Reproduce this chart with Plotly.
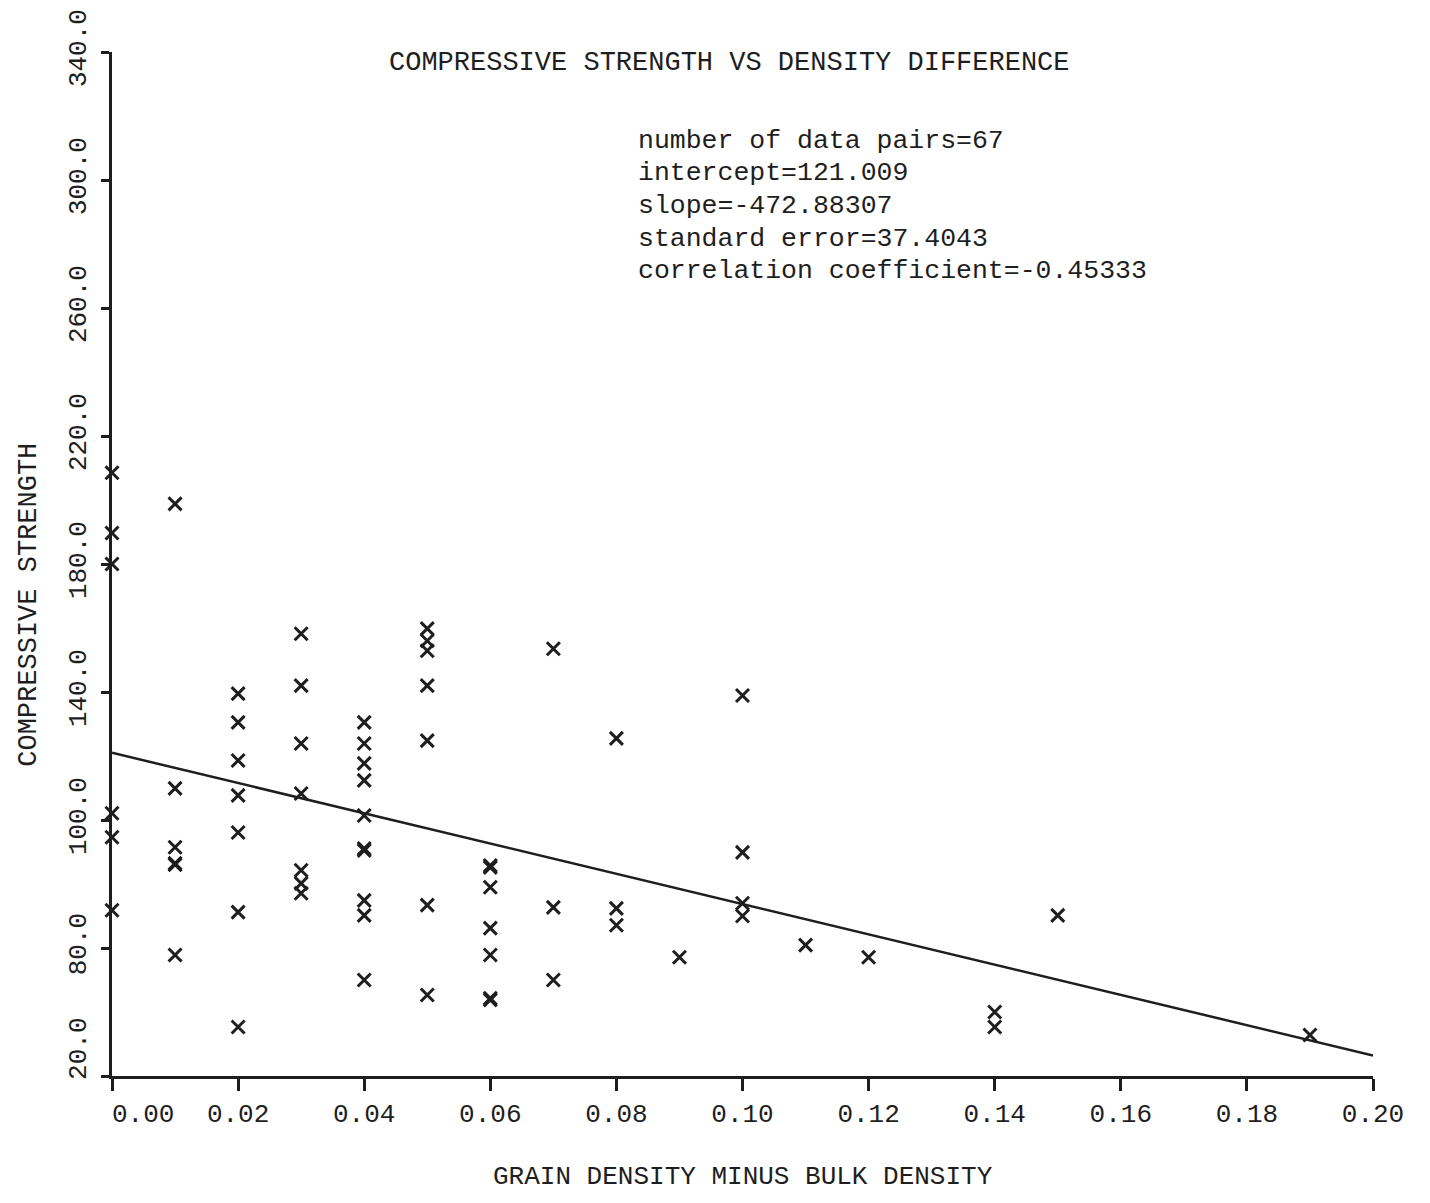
import plotly.graph_objects as go

# ---- data ----
density_diff = (
    [0.00] * 6 + [0.01] * 6 + [0.02] * 7 + [0.03] * 7 + [0.04] * 10 +
    [0.05] * 7 + [0.06] * 7 + [0.07] * 3 + [0.08] * 3 + [0.09] * 1 +
    [0.10] * 4 + [0.11] * 1 + [0.12] * 1 + [0.14] * 2 + [0.15] * 1 + [0.19] * 1
)
strength = [
    208.5, 189.7, 180.0, 102.1, 94.6, 71.8,                       # 0.00
    198.8, 109.9, 91.5, 86.5, 86.0, 57.8,                         # 0.01
    139.5, 130.5, 118.6, 107.7, 96.1, 71.2, 35.3,                 # 0.02
    158.2, 142.0, 123.9, 108.3, 84.3, 80.2, 77.1,                 # 0.03
    130.5, 123.9, 117.7, 112.4, 101.4, 91.1, 90.5, 74.9, 70.2, 50.0,  # 0.04
    159.8, 156.0, 152.9, 142.0, 124.8, 73.4, 45.3,                # 0.05
    85.8, 85.2, 79.0, 66.2, 57.8, 44.3, 43.8,                     # 0.06
    153.5, 72.7, 50.0,                                            # 0.07
    125.5, 72.4, 67.1,                                            # 0.08
    57.1,                                                         # 0.09
    138.9, 89.9, 74.0, 70.0,                                      # 0.10
    60.9,                                                         # 0.11
    57.1,                                                         # 0.12
    40.0, 35.3,                                                   # 0.14
    70.2,                                                         # 0.15
    32.8,                                                         # 0.19
]

intercept = 121.009
slope = -472.88307
fit_x = [0.0, 0.20]

NB = "\u00a0"
x_ticks = [0.00, 0.02, 0.04, 0.06, 0.08, 0.10, 0.12, 0.14, 0.16, 0.18, 0.20]
x_tick_text = [NB * 4 + "0.00", "0.02", "0.04", "0.06", "0.08", "0.10", "0.12", "0.14", "0.16", "0.18", "0.20"]
y_ticks = [20, 60, 100, 140, 180, 220, 260, 300, 340]
y_tick_text = [NB * 3 + "20.0", "80.0", "100.0", "140.0", "180.0", "220.0", "260.0", "300.0", "340.0"]

title_text = "COMPRESSIVE STRENGTH VS DENSITY DIFFERENCE"
stats_lines = [
    "number of data pairs=67",
    "intercept=121.009",
    "slope=-472.88307",
    "standard error=37.4043",
    "correlation coefficient=-0.45333",
]
x_title = "GRAIN DENSITY MINUS BULK DENSITY"
y_title = "COMPRESSIVE STRENGTH"

FONT = "Liberation Mono"
INK = "#1e1e1e"

fig = go.Figure()
fig.add_trace(go.Scatter(
    x=fit_x, y=[intercept + slope * v for v in fit_x],
    mode="lines", line=dict(color=INK, width=2.5),
    hoverinfo="skip", showlegend=False, cliponaxis=False,
))
fig.add_trace(go.Scatter(
    x=density_diff, y=strength, mode="markers",
    marker=dict(symbol="x-thin", size=13, line=dict(color=INK, width=3), color=INK),
    showlegend=False, cliponaxis=False,
))

annotations = [
    dict(text=title_text, xref="paper", yref="paper", x=0.490, y=0.989,
         xanchor="center", yanchor="middle", showarrow=False,
         font=dict(family=FONT, size=27, color=INK)),
    dict(text=x_title, xref="paper", yref="paper", x=0.5, y=-0.099,
         xanchor="center", yanchor="middle", showarrow=False,
         font=dict(family=FONT, size=26, color=INK)),
    dict(text=y_title, xref="paper", yref="paper", x=-0.066, y=0.46,
         xanchor="center", yanchor="middle", showarrow=False, textangle=-90,
         font=dict(family=FONT, size=27, color=INK)),
]
stats_y = [0.913, 0.882, 0.850, 0.817, 0.786]
for line, yy in zip(stats_lines, stats_y):
    annotations.append(dict(
        text=line, xref="paper", yref="paper", x=0.4155, y=yy,
        xanchor="left", yanchor="middle", showarrow=False,
        font=dict(family=FONT, size=26.5, color=INK)))

fig.update_layout(
    width=1414, height=1187,
    margin=dict(l=104, r=49, t=44, b=119),
    paper_bgcolor="white", plot_bgcolor="white",
    annotations=annotations,
    xaxis=dict(range=[0, 0.20], tickvals=x_ticks, ticktext=x_tick_text, automargin=False,
               showgrid=False, zeroline=False, showline=True, linecolor=INK, linewidth=3,
               ticks="outside", ticklen=12, tickwidth=3, tickcolor=INK,
               tickfont=dict(family=FONT, size=26, color=INK)),
    yaxis=dict(range=[20, 340], tickvals=y_ticks, ticktext=y_tick_text, automargin=False,
               showgrid=False, zeroline=False, showline=True, linecolor=INK, linewidth=3,
               ticks="outside", ticklen=8, tickwidth=3, tickcolor=INK, tickangle=-90,
               ticklabelstandoff=5,
               tickfont=dict(family=FONT, size=26, color=INK)),
)

fig.write_html("out.html")
